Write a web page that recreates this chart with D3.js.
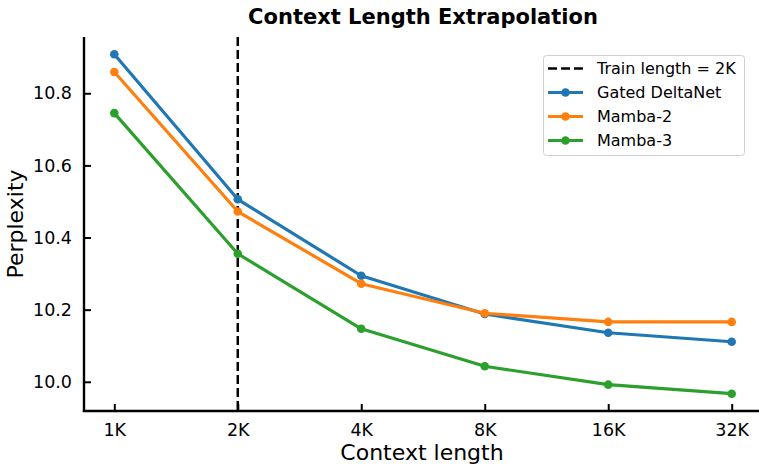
<!DOCTYPE html>
<html>
<head>
<meta charset="utf-8">
<script src="https://cdn.jsdelivr.net/npm/d3@7"></script>
<style>
  body { margin: 0; background: #fff; }
  svg text { font-family: "DejaVu Sans", sans-serif; fill: #000; }
</style>
</head>
<body>
<div id="chart"></div>
<script>
var contextLengths = ["1K", "2K", "4K", "8K", "16K", "32K"];
var gatedDeltaNet = [10.908, 10.506, 10.294, 10.188, 10.136, 10.111];
var mamba2 = [10.859, 10.472, 10.272, 10.190, 10.166, 10.166];
var mamba3 = [10.745, 10.355, 10.147, 10.043, 9.992, 9.967];
var yTicks = [10.0, 10.2, 10.4, 10.6, 10.8];
var trainLength = "2K";

var series = [
  {name: "Gated DeltaNet", values: gatedDeltaNet, color: "#1f77b4"},
  {name: "Mamba-2", values: mamba2, color: "#ff7f0e"},
  {name: "Mamba-3", values: mamba3, color: "#2ca02c"}
];

var width = 759, height = 464;
var plotLeft = 84, plotRight = 759, plotTop = 37, plotBottom = 411;

var svg = d3.select("#chart").append("svg")
  .attr("width", width)
  .attr("height", height);

var xScale = d3.scalePoint()
  .domain(contextLengths)
  .range([114.3, 731.7]);

var yScale = d3.scaleLinear()
  .domain([9.919, 10.956])
  .range([plotBottom, plotTop]);

// dashed train length line
svg.append("line")
  .attr("x1", xScale(trainLength)).attr("x2", xScale(trainLength))
  .attr("y1", plotTop).attr("y2", plotBottom)
  .attr("stroke", "#000")
  .attr("stroke-width", 2.5)
  .attr("stroke-dasharray", "9,4");

var line = d3.line()
  .x(function(d, i) { return xScale(contextLengths[i]); })
  .y(function(d) { return yScale(d); });

series.forEach(function(s) {
  svg.append("path")
    .datum(s.values)
    .attr("d", line)
    .attr("fill", "none")
    .attr("stroke", s.color)
    .attr("stroke-width", 3.2)
    .attr("stroke-linejoin", "round");
  svg.selectAll(null)
    .data(s.values)
    .enter().append("circle")
    .attr("cx", function(d, i) { return xScale(contextLengths[i]); })
    .attr("cy", function(d) { return yScale(d); })
    .attr("r", 4.3)
    .attr("fill", s.color);
});

// axes (inward ticks)
var xAxis = svg.append("g")
  .attr("transform", "translate(0," + plotBottom + ")")
  .call(d3.axisBottom(xScale).tickSizeInner(-7).tickSizeOuter(0).tickPadding(13));
xAxis.select(".domain").remove();
xAxis.selectAll("line").attr("stroke-width", 2);
xAxis.selectAll("text").attr("font-size", "17.5px").attr("font-family", "DejaVu Sans");

var yAxis = svg.append("g")
  .attr("transform", "translate(" + plotLeft + ",0)")
  .call(d3.axisLeft(yScale).tickValues(yTicks).tickFormat(d3.format(".1f"))
    .tickSizeInner(-7).tickSizeOuter(0).tickPadding(12));
yAxis.select(".domain").remove();
yAxis.selectAll("line").attr("stroke-width", 2);
yAxis.selectAll("text").attr("font-size", "17.5px").attr("font-family", "DejaVu Sans");

// spines
svg.append("line")
  .attr("x1", plotLeft).attr("x2", plotLeft)
  .attr("y1", plotTop).attr("y2", plotBottom + 1)
  .attr("stroke", "#000").attr("stroke-width", 2.4);
svg.append("line")
  .attr("x1", plotLeft - 1.2).attr("x2", plotRight)
  .attr("y1", plotBottom).attr("y2", plotBottom)
  .attr("stroke", "#000").attr("stroke-width", 2.4);

// title and labels
svg.append("text")
  .attr("x", 423).attr("y", 24)
  .attr("text-anchor", "middle")
  .attr("font-size", "21px")
  .attr("font-weight", "bold")
  .text("Context Length Extrapolation");

svg.append("text")
  .attr("x", 422).attr("y", 460)
  .attr("text-anchor", "middle")
  .attr("font-size", "22px")
  .text("Context length");

svg.append("text")
  .attr("transform", "translate(23,224) rotate(-90)")
  .attr("text-anchor", "middle")
  .attr("font-size", "22px")
  .text("Perplexity");

// legend
var legend = svg.append("g");
legend.append("rect")
  .attr("x", 543.5).attr("y", 55.5)
  .attr("width", 201).attr("height", 100)
  .attr("rx", 3)
  .attr("fill", "#fff").attr("fill-opacity", 0.8)
  .attr("stroke", "#d0d0d0").attr("stroke-width", 1);

var legendItems = [{name: "Train length = " + trainLength, color: "#000", dashed: true}].concat(series);
legendItems.forEach(function(item, i) {
  var cy = 68.5 + i * 24;
  legend.append("line")
    .attr("x1", 548).attr("x2", 583)
    .attr("y1", cy).attr("y2", cy)
    .attr("stroke", item.color)
    .attr("stroke-width", item.dashed ? 2.5 : 3.2)
    .attr("stroke-dasharray", item.dashed ? "9,4" : null);
  if (!item.dashed) {
    legend.append("circle")
      .attr("cx", 565.5).attr("cy", cy).attr("r", 4.3)
      .attr("fill", item.color);
  }
  legend.append("text")
    .attr("x", 597).attr("y", cy)
    .attr("dy", "0.35em")
    .attr("font-size", "16px")
    .text(item.name);
});
</script>
</body>
</html>
